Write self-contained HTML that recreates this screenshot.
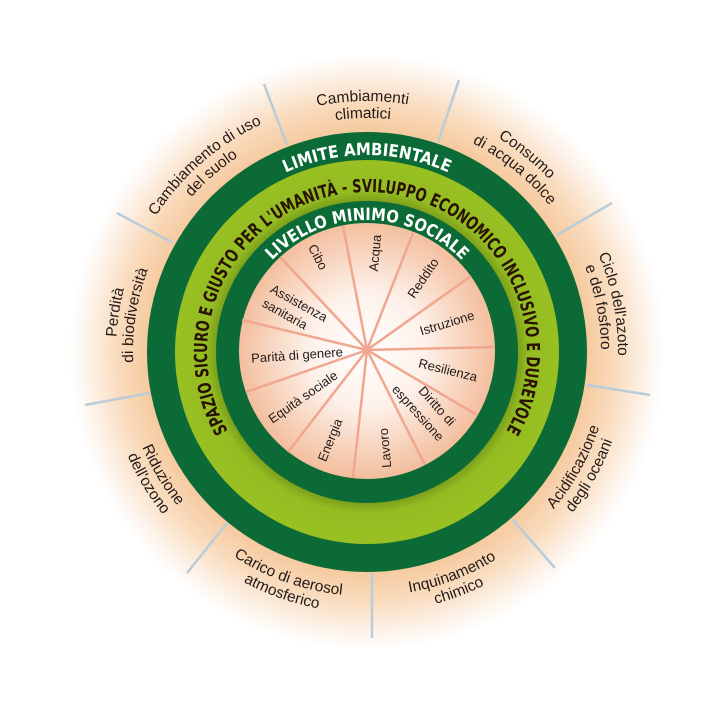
<!DOCTYPE html>
<html><head><meta charset="utf-8"><style>
html,body{margin:0;padding:0;background:#fff;width:709px;height:709px;overflow:hidden}
svg{display:block}
.o{font-family:"Liberation Sans",sans-serif;font-size:15.5px;fill:#231a18}
.i{font-family:"Liberation Sans",sans-serif;font-size:13px;fill:#231a18}
.b{font-family:"Liberation Sans Narrow","DejaVu Sans Condensed","Liberation Sans",sans-serif;font-weight:bold}
</style></head><body>
<svg width="709" height="709" viewBox="0 0 709 709" xmlns="http://www.w3.org/2000/svg">
<defs>
<radialGradient id="glow" cx="367" cy="352" r="298" gradientUnits="userSpaceOnUse">
<stop offset="0.72" stop-color="#f5c79a"/>
<stop offset="0.84" stop-color="#f9dcbe"/>
<stop offset="0.94" stop-color="#fdf3ea"/>
<stop offset="1" stop-color="#ffffff"/>
</radialGradient>
<radialGradient id="pale" cx="367" cy="350" r="130" gradientUnits="userSpaceOnUse">
<stop offset="0" stop-color="#ffffff"/>
<stop offset="0.45" stop-color="#fdf1ea"/>
<stop offset="1" stop-color="#f3bd9b"/>
</radialGradient>
<radialGradient id="lg" cx="367" cy="352" r="192" gradientUnits="userSpaceOnUse">
<stop offset="0.78" stop-color="#7a9c1a"/>
<stop offset="0.84" stop-color="#94bd22"/>
<stop offset="1" stop-color="#98c022"/>
</radialGradient>
<path id="cw251" d="M -251 0 A 251 251 0 1 1 251 0 A 251 251 0 1 1 -251 0"/>
<path id="cw234" d="M -234 0 A 234 234 0 1 1 234 0 A 234 234 0 1 1 -234 0"/>
<path id="cc244" d="M -244 0 A 244 244 0 1 0 244 0 A 244 244 0 1 0 -244 0"/>
<path id="cc261" d="M -261 0 A 261 261 0 1 0 261 0 A 261 261 0 1 0 -261 0"/>
<path id="cw197" d="M -197 0 A 197 197 0 1 1 197 0 A 197 197 0 1 1 -197 0"/>
<path id="cw160" d="M 0 160 A 160 160 0 1 1 0 -160 A 160 160 0 1 1 0 160"/>
<path id="cw132" d="M -132 0 A 132 132 0 1 1 132 0 A 132 132 0 1 1 -132 0"/>
</defs>
<circle cx="367" cy="352" r="298" fill="url(#glow)"/>
<g stroke="#b9ccd8" stroke-width="2.5">
<line x1="287" y1="145" x2="264" y2="84"/>
<line x1="438" y1="142" x2="459" y2="80"/>
<line x1="557" y1="235" x2="612" y2="203"/>
<line x1="587" y1="385" x2="650" y2="395"/>
<line x1="513" y1="520" x2="555" y2="568"/>
<line x1="372" y1="573" x2="372" y2="638"/>
<line x1="227" y1="523" x2="187" y2="573"/>
<line x1="150" y1="393" x2="85" y2="405"/>
<line x1="173" y1="243" x2="117" y2="213"/>
</g>
<circle cx="367" cy="352" r="220" fill="#0b6a35"/>
<circle cx="367" cy="352" r="192" fill="url(#lg)"/>
<circle cx="367" cy="352" r="151" fill="#0b6a35"/>
<circle cx="367" cy="351" r="128" fill="url(#pale)"/>
<g stroke="#f1a68f" stroke-width="2.5" transform="translate(367,350)">
<line x1="0" y1="0" x2="-24" y2="-124"/>
<line x1="0" y1="0" x2="46" y2="-117"/>
<line x1="0" y1="0" x2="104" y2="-74"/>
<line x1="0" y1="0" x2="128" y2="-3"/>
<line x1="0" y1="0" x2="110" y2="65"/>
<line x1="0" y1="0" x2="58" y2="115"/>
<line x1="0" y1="0" x2="-14" y2="128"/>
<line x1="0" y1="0" x2="-79" y2="102"/>
<line x1="0" y1="0" x2="-121" y2="42"/>
<line x1="0" y1="0" x2="-125" y2="-30"/>
<line x1="0" y1="0" x2="-87" y2="-93"/>
</g>
<circle cx="367" cy="350" r="3" fill="#f1a68f"/>

<g transform="translate(367,352)">
<text class="b" font-size="17" fill="#fff" text-anchor="middle"><textPath href="#cw197" startOffset="25%" textLength="168" lengthAdjust="spacingAndGlyphs">LIMITE AMBIENTALE</textPath></text>
<text class="b" font-size="18" fill="#2a1200" text-anchor="middle"><textPath href="#cw160" startOffset="50%" textLength="668" lengthAdjust="spacingAndGlyphs">SPAZIO SICURO E GIUSTO PER L'UMANITÀ - SVILUPPO ECONOMICO INCLUSIVO E DUREVOLE</textPath></text>
<text class="b" font-size="17" fill="#fff" text-anchor="middle"><textPath href="#cw132" startOffset="25%" textLength="212" lengthAdjust="spacingAndGlyphs">LIVELLO MINIMO SOCIALE</textPath></text>
</g>

<g transform="translate(367,352) rotate(-1)">
<text class="o" text-anchor="middle"><textPath href="#cw251" startOffset="25%">Cambiamenti</textPath></text>
<text class="o" text-anchor="middle"><textPath href="#cw234" startOffset="25%">climatici</textPath></text>
</g>
<g transform="translate(367,352) rotate(39)">
<text class="o" text-anchor="middle"><textPath href="#cw251" startOffset="25%">Consumo</textPath></text>
<text class="o" text-anchor="middle"><textPath href="#cw234" startOffset="25%">di acqua dolce</textPath></text>
</g>
<g transform="translate(367,352) rotate(79)">
<text class="o" text-anchor="middle"><textPath href="#cw251" startOffset="25%">Ciclo dell'azoto</textPath></text>
<text class="o" text-anchor="middle"><textPath href="#cw234" startOffset="25%">e del fosforo</textPath></text>
</g>
<g transform="translate(367,352) rotate(-81)">
<text class="o" text-anchor="middle"><textPath href="#cw251" startOffset="25%">Perdità</textPath></text>
<text class="o" text-anchor="middle"><textPath href="#cw234" startOffset="25%">di biodiversità</textPath></text>
</g>
<g transform="translate(367,352) rotate(-41)">
<text class="o" text-anchor="middle"><textPath href="#cw251" startOffset="25%">Cambiamento di uso</textPath></text>
<text class="o" text-anchor="middle"><textPath href="#cw234" startOffset="25%">del suolo</textPath></text>
</g>
<g transform="translate(367,352) rotate(-61)">
<text class="o" text-anchor="middle"><textPath href="#cc244" startOffset="25%">Acidificazione</textPath></text>
<text class="o" text-anchor="middle"><textPath href="#cc261" startOffset="25%">degli oceani</textPath></text>
</g>
<g transform="translate(367,352) rotate(-21)">
<text class="o" text-anchor="middle"><textPath href="#cc244" startOffset="25%">Inquinamento</textPath></text>
<text class="o" text-anchor="middle"><textPath href="#cc261" startOffset="25%">chimico</textPath></text>
</g>
<g transform="translate(367,352) rotate(19.5)">
<text class="o" text-anchor="middle"><textPath href="#cc244" startOffset="25%">Carico di aerosol</textPath></text>
<text class="o" text-anchor="middle"><textPath href="#cc261" startOffset="25%">atmosferico</textPath></text>
</g>
<g transform="translate(367,352) rotate(59)">
<text class="o" text-anchor="middle"><textPath href="#cc244" startOffset="25%">Riduzione</textPath></text>
<text class="o" text-anchor="middle"><textPath href="#cc261" startOffset="25%">dell'ozono</textPath></text>
</g>

<g class="i" text-anchor="middle" dominant-baseline="central">
<text x="318" y="257" transform="rotate(62 318 257)">Cibo</text>
<text x="375" y="253" transform="rotate(-85 375 253)">Acqua</text>
<text x="423" y="278" transform="rotate(-56 423 278)">Reddito</text>
<text x="447" y="323" transform="rotate(-17 447 323)">Istruzione</text>
<text x="448" y="370" transform="rotate(14 448 370)">Resilienza</text>
<text x="437" y="406" transform="rotate(48 437 406)">Diritto di</text>
<text x="418" y="413" transform="rotate(48 418 413)">espressione</text>
<text x="385" y="448" transform="rotate(-95 385 448)">Lavoro</text>
<text x="330" y="440" transform="rotate(-68 330 440)">Energia</text>
<text x="303" y="397" transform="rotate(-35 303 397)">Equità sociale</text>
<text x="297" y="355" transform="rotate(-4 297 355)">Parità di genere</text>
<text x="299" y="303" transform="rotate(29 299 303)">Assistenza</text>
<text x="285" y="314" transform="rotate(29 285 314)">sanitaria</text>
</g>
</svg>
</body></html>
